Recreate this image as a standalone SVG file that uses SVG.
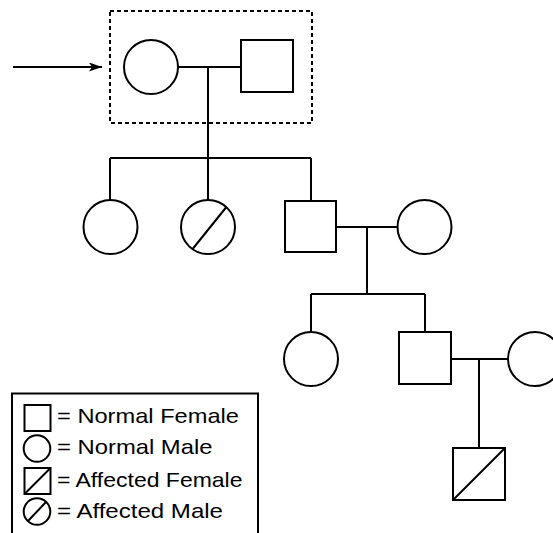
<svg xmlns="http://www.w3.org/2000/svg" width="553" height="533" viewBox="0 0 553 533">
<style>
.s{fill:#fff;stroke:#000;stroke-width:2}
.l{fill:none;stroke:#000;stroke-width:2}
.t{font-family:"Liberation Sans",Arial,sans-serif;font-size:21px;fill:#000}
</style>
<defs>
<marker id="ah" markerWidth="13" markerHeight="9" refX="13" refY="4.5" orient="auto" markerUnits="userSpaceOnUse">
<path d="M0,0 L13,4.5 L0,9 L3,4.5 Z" fill="#000"/>
</marker>
</defs>
<rect width="553" height="533" fill="#fff"/>
<g id="connectors">
<rect x="110" y="11" width="202" height="112" fill="none" stroke="#000" stroke-width="2" stroke-dasharray="4,3"/>
<line x1="13" y1="67" x2="102" y2="67" class="l" marker-end="url(#ah)"/>
<path class="l" d="M178,67 H241 M208,67 V158 M110,158 H311 M110,158 V200 M208,158 V200 M311,158 V201"/>
<path class="l" d="M336,227 H397 M367,227 V294 M311,294 H425 M311,294 V332 M425,294 V332"/>
<path class="l" d="M451,359 H508 M479,359 V448"/>
</g>
<g id="n1"><circle class="s" cx="151" cy="67" r="27"/></g>
<g id="n2"><rect class="s" x="241" y="40" width="52" height="52"/></g>
<g id="n3"><circle class="s" cx="110.5" cy="227" r="27"/></g>
<g id="n4"><circle class="s" cx="208" cy="227" r="27"/><line class="l" x1="193" y1="248.5" x2="226" y2="207.5"/></g>
<g id="n5"><rect class="s" x="285" y="201" width="51" height="51"/></g>
<g id="n6"><circle class="s" cx="424.5" cy="227" r="27"/></g>
<g id="n7"><circle class="s" cx="311" cy="359" r="27"/></g>
<g id="n8"><rect class="s" x="399" y="332" width="52" height="52"/></g>
<g id="n9"><circle class="s" cx="535" cy="359" r="27"/></g>
<g id="n10"><rect class="s" x="453" y="448" width="52" height="52"/><line class="l" x1="453" y1="500" x2="505" y2="448"/></g>
<g id="legend">
<path class="l" d="M12,533 V393.5 H258 V533"/>
<rect class="s" x="24.5" y="405" width="26" height="26"/>
<circle class="s" cx="37" cy="448.5" r="13.3"/>
<rect class="s" x="24.5" y="468" width="26" height="26"/>
<line class="l" x1="24.5" y1="494" x2="50.5" y2="468"/>
<circle class="s" cx="37" cy="511.5" r="13.3"/>
<line class="l" x1="28" y1="521" x2="46" y2="502"/>
<text class="t" x="57" y="422.7" textLength="182" lengthAdjust="spacingAndGlyphs">= Normal Female</text>
<text class="t" x="57" y="454.3" textLength="155.5" lengthAdjust="spacingAndGlyphs">= Normal Male</text>
<text class="t" x="57" y="486.7" textLength="185.5" lengthAdjust="spacingAndGlyphs">= Affected Female</text>
<text class="t" x="57" y="518.3" textLength="166" lengthAdjust="spacingAndGlyphs">= Affected Male</text>
</g>
</svg>
